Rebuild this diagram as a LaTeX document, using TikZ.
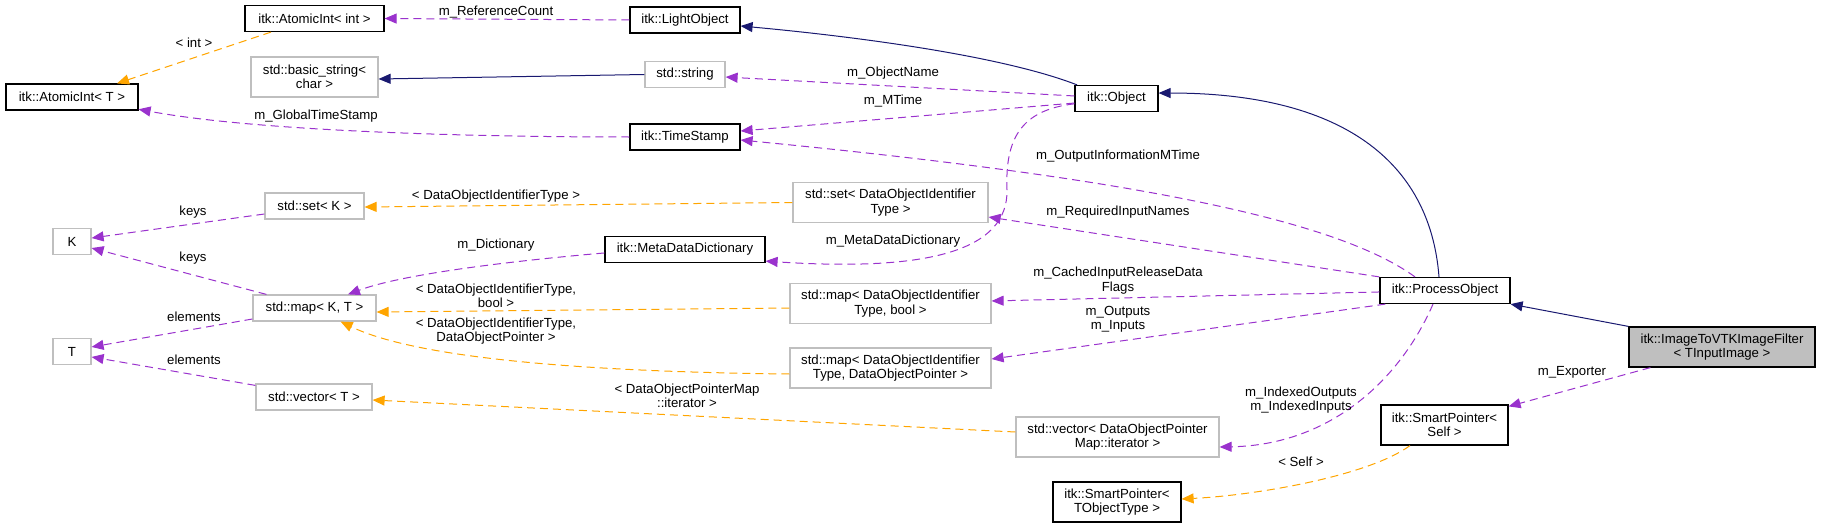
\documentclass[tikz,border=0pt]{standalone}
\usepackage{fontspec}
\setmainfont{Liberation Sans}
\usetikzlibrary{arrows.meta}
\definecolor{dpurple}{RGB}{154,50,205}
\definecolor{dorange}{RGB}{255,165,0}
\definecolor{dnavy}{RGB}{25,25,112}
\definecolor{dgray}{RGB}{191,191,191}
\tikzset{
  every node/.style={font=\fontsize{9.9}{10.8}\selectfont, inner sep=0pt, align=center},
  box/.style={draw=black, line width=0.9pt, fill=white, minimum height=19.5pt},
  gbox/.style={draw=dgray, line width=0.9pt, fill=white, minimum height=19.5pt},
  tall/.style={minimum height=30pt},
  mainbox/.style={draw=black, line width=0.9pt, fill=dgray, minimum height=30pt},
  tip/.style={-{Triangle[length=9pt,width=7.5pt]}},
  purp/.style={tip, draw=dpurple, line width=0.75pt, dash pattern=on 6pt off 3.75pt},
  oran/.style={tip, draw=dorange, line width=0.75pt, dash pattern=on 6pt off 3.75pt},
  navy/.style={tip, draw=dnavy, line width=0.75pt},
  lbl/.style={fill=none}
}
\begin{document}
\begin{tikzpicture}[x={(0.75pt,0)}, y={(0,-0.75pt)}]
\useasboundingbox (0,0) rectangle (1824,528);
% nodes
\node[box, minimum width=104.25pt] (aint) at (314.5,18.5) {itk::AtomicInt< int >};
\node[box, minimum width=99pt] (aintT) at (72,97) {itk::AtomicInt< T >};
\node[gbox, tall, minimum width=95.25pt] (bstr) at (314.5,77) {std::basic\_string<\\char >};
\node[gbox, minimum width=74.25pt] (setK) at (314.5,206) {std::set< K >};
\node[gbox, minimum width=28.5pt] (K) at (72,241.5) {K};
\node[gbox, minimum width=92.25pt] (mapKT) at (314.5,308) {std::map< K, T >};
\node[gbox, minimum width=28.5pt] (T) at (72,351.5) {T};
\node[gbox, minimum width=87pt] (vecT) at (314,397) {std::vector< T >};
\node[box, minimum width=82.5pt] (light) at (685,20) {itk::LightObject};
\node[gbox, minimum width=60pt] (str) at (685,74.5) {std::string};
\node[box, minimum width=62.25pt] (obj) at (1116.5,98.5) {itk::Object};
\node[box, minimum width=82.5pt] (ts) at (685,137) {itk::TimeStamp};
\node[gbox, tall, minimum width=146.25pt] (setD) at (890.5,202.5) {std::set< DataObjectIdentifier\\Type >};
\node[box, minimum width=120pt] (mdd) at (685,249.5) {itk::MetaDataDictionary};
\node[gbox, tall, minimum width=150.75pt] (mapB) at (890.5,303.5) {std::map< DataObjectIdentifier\\Type, bool >};
\node[gbox, tall, minimum width=150.75pt] (mapP) at (890.5,368) {std::map< DataObjectIdentifier\\Type, DataObjectPointer >};
\node[gbox, tall, minimum width=152.25pt] (vecD) at (1117.5,437) {std::vector< DataObjectPointer\\Map::iterator >};
\node[box, tall, minimum width=96pt] (spT) at (1117,502) {itk::SmartPointer<\\TObjectType >};
\node[box, minimum width=97.5pt] (po) at (1445,290.5) {itk::ProcessObject};
\node[mainbox, minimum width=139.5pt] (main) at (1722,347) {itk::ImageToVTKImageFilter\\< TInputImage >};
\node[box, tall, minimum width=95.25pt] (spS) at (1444.5,425) {itk::SmartPointer<\\Self >};
% edges
\draw[oran] ([xshift=-32.6pt]aint.south) -- ([xshift=33.75pt]aintT.north);
\node[lbl] (l1) at (194,43) {< int >};
\draw[purp] (light.west) -- (aint.east);
\node[lbl] (l2) at (496,12) {m\_ReferenceCount};
\draw[navy] (str.west) -- ([yshift=-1.5pt]bstr.east);
\draw[navy] ([xshift=2pt]obj.north west) .. controls (1000,55) and (850,36) .. ([yshift=-4.5pt]light.east);
\draw[purp] ([yshift=1.9pt]obj.west) -- ([yshift=-1.9pt]str.east);
\node[lbl] (l5) at (893,73) {m\_ObjectName};
\draw[purp] ([yshift=-3.4pt]obj.west) -- ([yshift=4.5pt]ts.east);
\node[lbl] (l6) at (893,101) {m\_MTime};
\draw[purp] (ts.west) .. controls (450,137) and (250,130) .. ([yshift=1pt]aintT.south east);
\node[lbl] (l7) at (316,116) {m\_GlobalTimeStamp};
\draw[purp] ([yshift=-4pt]obj.west) .. controls (1020,110) and (1005,140) .. (1007,190) .. controls (1008,250) and (930,272) .. ([yshift=1.5pt]mdd.south east);
\node[lbl] (l8) at (893,241) {m\_MetaDataDictionary};
\draw[navy] ([xshift=-4.5pt]po.north) .. controls (1430,160) and (1340,93) .. ([yshift=4.1pt]obj.east);
\draw[purp] ([xshift=-22.5pt]po.north) .. controls (1330,215) and (1100,175) .. ([yshift=-2.25pt]ts.east);
\node[lbl] (l10) at (1118,156) {m\_OutputInformationMTime};
\draw[purp] (po.north west) -- ([yshift=-10.9pt]setD.east);
\node[lbl] (l11) at (1118,212) {m\_RequiredInputNames};
\draw[purp] ([yshift=-1.1pt]po.west) -- ([yshift=1.9pt]mapB.east);
\node[lbl] (l12) at (1118,280.5) {m\_CachedInputReleaseData\\Flags};
\draw[purp] ([xshift=4.5pt]po.south west) -- ([yshift=6.75pt]mapP.east);
\node[lbl] (l13) at (1118,319.5) {m\_Outputs\\m\_Inputs};
\draw[purp] ([xshift=-9pt]po.south) .. controls (1400,380) and (1330,445) .. ([yshift=-7.5pt]vecD.east);
\node[lbl] (l14) at (1301,400) {m\_IndexedOutputs\\m\_IndexedInputs};
\draw[navy] (main.north west) -- (po.south east);
\draw[purp] ([xshift=16.5pt]main.south west) -- ([yshift=-1.5pt]spS.north east);
\node[lbl] (l16) at (1572,372) {m\_Exporter};
\draw[oran] ([xshift=-25.9pt]spS.south) .. controls (1370,475) and (1260,495) .. ([yshift=2.25pt]spT.east);
\node[lbl] (l17) at (1301,462) {< Self >};
\draw[oran] (setD.west) -- ([yshift=-0.75pt]setK.east);
\node[lbl] (l18) at (496,196) {< DataObjectIdentifierType >};
\draw[purp] ([yshift=-6pt]setK.west) -- ([yshift=2.6pt]K.east);
\node[lbl] (l19) at (193,212) {keys};
\draw[purp] ([xshift=10.5pt]mapKT.north west) -- ([yshift=-4.9pt]K.east);
\node[lbl] (l20) at (193,258) {keys};
\draw[purp] ([yshift=-2.6pt]mdd.west) .. controls (500,262) and (400,275) .. ([xshift=25.1pt]mapKT.north);
\node[lbl] (l21) at (496,245) {m\_Dictionary};
\draw[oran] ([yshift=-3.4pt]mapB.west) -- ([yshift=-3pt]mapKT.east);
\node[lbl] (l22) at (496,296) {< DataObjectIdentifierType,\\bool >};
\draw[oran] ([yshift=-4.5pt]mapP.west) .. controls (600,372) and (420,360) .. ([xshift=-27pt]mapKT.south east);
\node[lbl] (l23) at (496,331) {< DataObjectIdentifierType,\\DataObjectPointer >};
\draw[purp] ([yshift=-8.25pt]mapKT.west) -- ([yshift=3.4pt]T.east);
\node[lbl] (l24) at (194,317) {elements};
\draw[purp] ([yshift=-1.5pt]vecT.north west) -- ([yshift=-4.1pt]T.east);
\node[lbl] (l25) at (194,360) {elements};
\draw[oran] ([yshift=3.75pt]vecD.west) -- ([yshift=-2.25pt]vecT.east);
\node[lbl] (l26) at (687,396) {< DataObjectPointerMap\\::iterator >};
\end{tikzpicture}
\end{document}
